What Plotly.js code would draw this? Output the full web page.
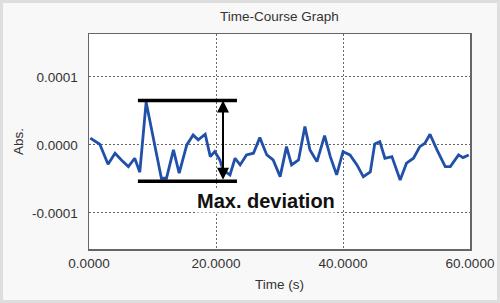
<!DOCTYPE html>
<html><head><meta charset="utf-8">
<script src="https://cdn.plot.ly/plotly-3.0.1.min.js"></script>
<style>
html,body{margin:0;padding:0;background:#fff;}
#wrap{width:494px;height:297px;border:3px solid #dedede;background:#f8f8f8;}
#chart{width:494px;height:297px;}
</style></head><body>
<div id="wrap"><div id="chart"></div></div>
<script>
// Time (s)
var timeS = [0.2,1.7,3.0,4.1,5.1,6.2,7.2,8.0,9.0,11.4,12.2,13.3,14.2,15.4,16.4,17.2,18.3,19.1,19.8,20.6,21.1,22.2,23.0,23.8,24.8,25.9,26.9,28.0,29.0,30.1,31.1,31.9,33.0,34.0,34.8,35.9,37.1,38.0,39.0,40.0,41.1,42.2,43.2,44.3,45.0,45.8,46.6,47.7,49.0,50.0,51.1,52.1,52.9,53.7,54.8,56.1,56.9,58.2,58.9,59.8];
// Absorbance
var absVals = [0.0000099,0.0000010,-0.0000284,-0.0000122,-0.0000221,-0.0000319,-0.0000196,-0.0000401,0.0000628,-0.0000490,-0.0000490,-0.0000074,-0.0000416,0.0000000,0.0000147,0.0000074,0.0000157,-0.0000172,-0.0000099,-0.0000221,-0.0000368,-0.0000441,-0.0000196,-0.0000294,-0.0000147,-0.0000122,0.0000107,-0.0000147,-0.0000221,-0.0000466,-0.0000025,-0.0000294,-0.0000221,0.0000269,-0.0000074,-0.0000246,0.0000137,-0.0000172,-0.0000441,-0.0000099,-0.0000147,-0.0000294,-0.0000466,-0.0000397,0.0000015,0.0000049,-0.0000196,-0.0000172,-0.0000515,-0.0000269,-0.0000196,-0.0000025,0.0000025,0.0000157,-0.0000074,-0.0000319,-0.0000319,-0.0000147,-0.0000187,-0.0000147];
// Tick labels
var xTickVals = [0, 20, 40, 60];
var xTickText = ['0.0000', '20.0000', '40.0000', '60.0000'];
var yTickVals = [-0.0001, 0, 0.0001];
var yTickText = ['-0.0001', '0.0000', '0.0001'];
var devRange = [7.7, 23.3];   // x extent of the deviation bars
var arrowX = 21.1;
var labelText = "Max. deviation";

var yMax = Math.max.apply(null, absVals) + 0.0000025;
var yMin = Math.min.apply(null, absVals) - 0.000002;

var font = "Liberation Sans, Arial, sans-serif";
var fs = 13.5;
var traces = [
  {x: timeS, y: absVals, type: 'scatter', mode: 'lines',
   line: {color: '#2050a8', width: 2.8}, hoverinfo: 'skip'},
  {x: devRange, y: [yMax, yMax], type: 'scatter', mode: 'lines',
   line: {color: '#000', width: 3.5}, hoverinfo: 'skip'},
  {x: devRange, y: [yMin, yMin], type: 'scatter', mode: 'lines',
   line: {color: '#000', width: 3.5}, hoverinfo: 'skip'}
];
var layout = {
  width: 494, height: 297,
  margin: {l: 86, r: 27, t: 31, b: 51},
  paper_bgcolor: '#f8f8f8', plot_bgcolor: '#ffffff',
  showlegend: false,
  font: {family: font, size: fs, color: '#333'},
  title: {text: 'Time-Course Graph', font: {family: font, size: fs, color: '#333'},
          x: 0.5, xref: 'paper', xanchor: 'center', y: 1 - 13/297, yref: 'container', yanchor: 'middle'},
  xaxis: {range: [0, 60], tickmode: 'array', tickvals: xTickVals, ticktext: xTickText,
          showgrid: true, gridcolor: '#666', griddash: '2px,2px', gridwidth: 1,
          zeroline: false, showline: true, mirror: true, linecolor: '#666', linewidth: 1.5,
          ticks: '', ticklen: 0, ticklabelstandoff: 1, tickfont: {family: font, size: fs, color: '#333'},
          title: {text: 'Time (s)', font: {family: font, size: fs, color: '#333'}, standoff: 10}},
  yaxis: {range: [-0.000153, 0.000163], tickmode: 'array', tickvals: yTickVals, ticktext: yTickText,
          showgrid: true, gridcolor: '#666', griddash: '2px,2px', gridwidth: 1,
          zeroline: false, showline: true, mirror: true, linecolor: '#666', linewidth: 1.5,
          ticks: '', ticklen: 0, ticklabelstandoff: 7, tickfont: {family: font, size: fs, color: '#333'},
          title: {text: 'Abs.', font: {family: font, size: fs, color: '#333'}, standoff: 5}},
  annotations: [
    {x: arrowX, y: yMax, ax: arrowX, ay: yMin, xref: 'x', yref: 'y', axref: 'x', ayref: 'y',
     text: '', showarrow: true, arrowhead: 2, startarrowhead: 2, arrowside: 'end+start',
     arrowsize: 1.2, startarrowsize: 1.2, arrowwidth: 2, arrowcolor: '#000', standoff: 0, startstandoff: 0},
    {x: 27.9, y: -0.000082, xref: 'x', yref: 'y', text: '<b>' + labelText + '</b>', showarrow: false,
     font: {family: font, size: 20, color: '#111'}, bgcolor: '#ffffff', borderpad: 0}
  ]
};
Plotly.newPlot('chart', traces, layout, {displayModeBar: false, staticPlot: true});
</script></body></html>
